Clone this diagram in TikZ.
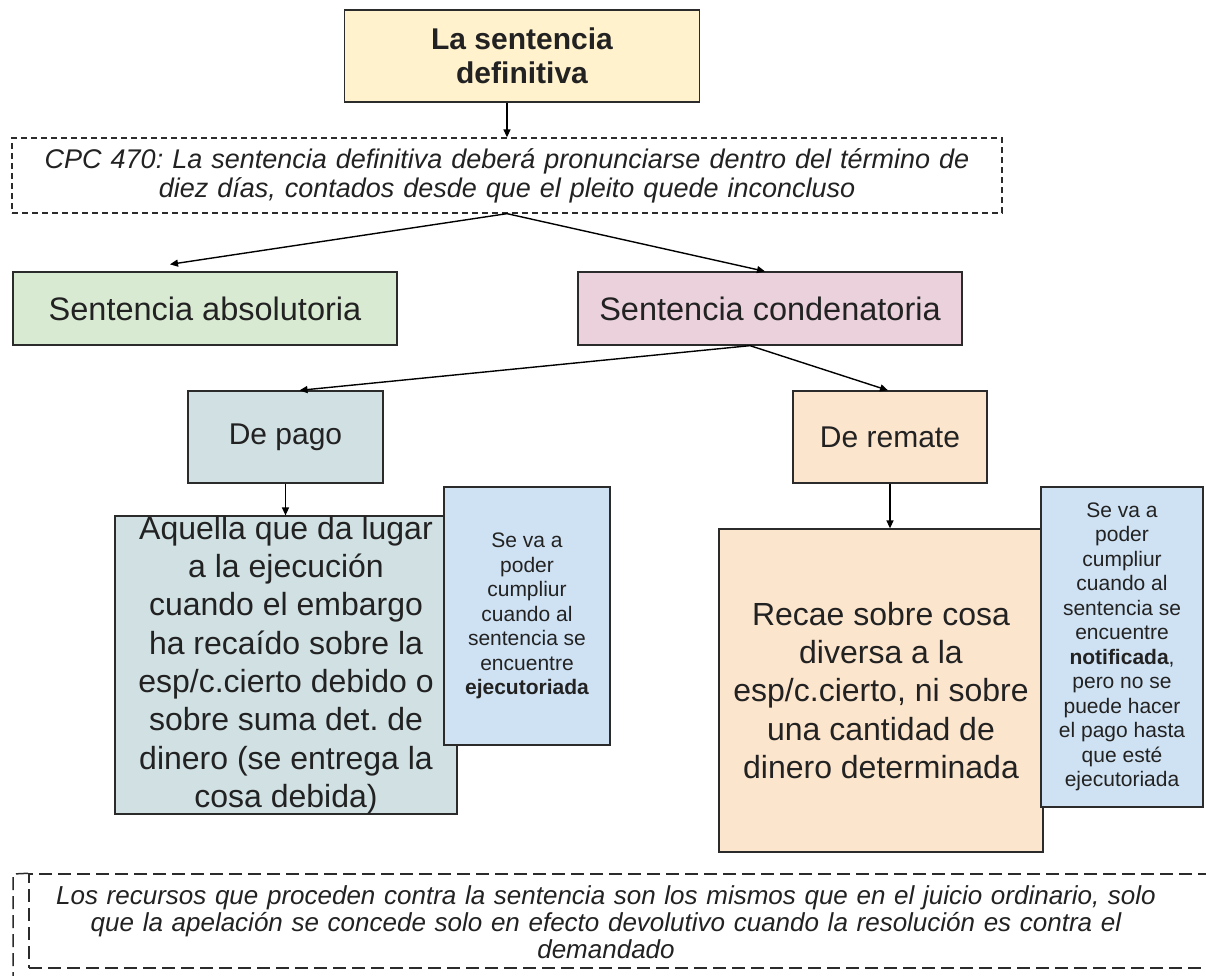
\documentclass[tikz,border=0pt]{standalone}
\usepackage{fontspec}
\setmainfont{Liberation Sans}
\frenchspacing
\usetikzlibrary{arrows.meta,positioning}
\definecolor{sentYellow}{HTML}{FFF2CC}
\definecolor{sentGreen}{HTML}{D9EAD3}
\definecolor{sentPink}{HTML}{EAD1DC}
\definecolor{sentGrey}{HTML}{D0E0E3}
\definecolor{sentPeach}{HTML}{FCE5CD}
\definecolor{sentBlue}{HTML}{CFE2F3}
\definecolor{sentInk}{HTML}{222222}
\definecolor{sentLine}{HTML}{2B2B2B}

\begin{document}
\begin{tikzpicture}[x=1pt,y=-1pt,>={Triangle[length=8pt,width=7pt]},line join=miter]
\useasboundingbox[fill=white] (0,0) rectangle (1206,975);
\tikzset{box/.style={draw=sentLine,line width=1.3pt,inner sep=0pt,align=center,text=sentInk},dashbox/.style={box,dash pattern=on 6pt off 4pt},arr/.style={->,draw=black,line width=1.4pt},big/.style={font=\fontsize{30}{34}\selectfont},kind/.style={font=\fontsize{32.5}{36}\selectfont},note/.style={font=\fontsize{21}{24.5}\selectfont},long/.style={font=\fontsize{32}{38.3}\selectfont}}
% title and article
\node[box,fill=sentYellow,minimum width=355pt,minimum height=92pt,font={\fontsize{30}{34}\selectfont\bfseries}] (defin) at (522,56) {La sentencia\\definitiva};
\node[dashbox,text width=990pt,minimum height=75pt,font=\fontsize{27}{29}\selectfont\itshape] (cpc) at (507,175.5) {CPC 470: La sentencia definitiva deberá pronunciarse dentro del término de\\diez días, contados desde que el pleito quede inconcluso};
\draw[arr] (cpc.north |- defin.south) -- (cpc.north);
% kinds of sentence
\node[box,fill=sentGreen,minimum width=384pt,minimum height=73pt,kind] (absol) at (205,308.5) {Sentencia absolutoria};
\node[box,fill=sentPink,minimum width=384pt,minimum height=73pt,kind] (conden) at (770,308.5) {Sentencia condenatoria};
\draw[arr] (cpc.south) -- ([xshift=-35pt,yshift=7pt]absol.north);
\draw[arr] (cpc.south) -- ([xshift=-5pt]conden.north);
\node[box,fill=sentGrey,minimum width=195pt,minimum height=92pt,big] (pago) at (285.5,437) {De pago};
\node[box,fill=sentPeach,minimum width=194pt,minimum height=92pt,big] (remate) at (890,437) {De remate};
\draw[arr] ([xshift=-20pt]conden.south) -- ([xshift=14pt]pago.north);
\draw[arr] ([xshift=-20pt]conden.south) -- ([xshift=-2pt]remate.north);
% de pago
\node[box,fill=sentGrey,minimum width=342pt,minimum height=296pt,long] (pagotext) at (286,665) {Aquella que da lugar\\a la ejecución\\cuando el embargo\\ha recaído sobre la\\esp/c.cierto debido o\\sobre suma det. de\\dinero (se entrega la\\cosa debida)};
\node[box,fill=sentBlue,minimum width=166pt,minimum height=258pt,note] (pagonote) at (527,616) {Se va a\\poder\\cumpliur\\cuando al\\sentencia se\\encuentre\\\textbf{ejecutoriada}};
\draw[arr] (pago.south) -- (pago.south |- pagotext.north);
% de remate
\node[box,fill=sentPeach,minimum width=324pt,minimum height=323pt,long] (remtext) at (881,690.5) {Recae sobre cosa\\diversa a la\\esp/c.cierto, ni sobre\\una cantidad de\\dinero determinada};
\node[box,fill=sentBlue,minimum width=162pt,minimum height=320pt,note] (remnote) at (1122,647) {Se va a\\poder\\cumpliur\\cuando al\\sentencia se\\encuentre\\\textbf{notificada},\\pero no se\\puede hacer\\el pago hasta\\que esté\\ejecutoriada};
\draw[arr] (remate.south) -- (remate.south |- remtext.north);
% recursos
\node[box,dash pattern=on 13pt off 6pt,line width=1.5pt,minimum width=1190pt,minimum height=94pt] (recbox) at (624,921) {};
\node[text=sentInk,text width=1150pt,align=center,font=\fontsize{26}{27}\selectfont\itshape] (recursos) at (606,922) {Los recursos que proceden contra la sentencia son los mismos que en el juicio ordinario, solo\\que la apelación se concede solo en efecto devolutivo cuando la resolución es contra el\\demandado};
\draw[draw=sentLine,line width=1.5pt,dash pattern=on 13pt off 6pt] (13,985) -- (13,874) -- (recbox.north west);
\end{tikzpicture}
\end{document}
